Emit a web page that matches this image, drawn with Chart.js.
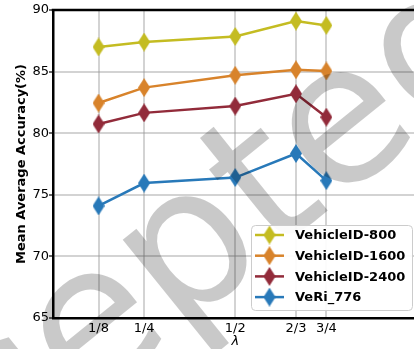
<!DOCTYPE html>
<html><head><meta charset="utf-8">
<script src="https://cdn.jsdelivr.net/npm/chart.js@4/dist/chart.umd.min.js"></script>
<style>html,body{margin:0;padding:0;overflow:hidden;background:#fff;width:414px;height:349px}canvas{display:block}</style>
</head><body>
<canvas id="c" width="424" height="349"></canvas>
<script>
// ---- data ----
const lambdaValues = [0.125, 0.25, 0.5, 2/3, 0.75];
const lambdaLabels = ['1/8', '1/4', '1/2', '2/3', '3/4'];
const seriesNames = ['VehicleID-800', 'VehicleID-1600', 'VehicleID-2400', 'VeRi_776'];
const vehicleID800 = [87.0, 87.4, 87.85, 89.1, 88.75];
const vehicleID1600 = [82.45, 83.7, 84.7, 85.15, 85.05];
const vehicleID2400 = [80.75, 81.65, 82.2, 83.2, 81.3];
const veri776 = [74.1, 75.95, 76.4, 78.35, 76.15];
const yTicks = [65, 70, 75, 80, 85, 90];

const seriesValues = [vehicleID800, vehicleID1600, vehicleID2400, veri776];
const colors = ['#c4bc22', '#d8832b', '#922b3a', '#2879b9'];

function diamond(color){
  const c = document.createElement('canvas');
  c.width = 12; c.height = 19;
  const x = c.getContext('2d');
  x.fillStyle = color;
  x.beginPath(); x.moveTo(6,0); x.lineTo(12,9.5); x.lineTo(6,19); x.lineTo(0,9.5); x.closePath(); x.fill();
  return c;
}
const markers = colors.map(diamond);

const datasets = seriesNames.map((n,i)=>({
  label: n,
  data: lambdaValues.map((v,j)=>({x:v, y:seriesValues[i][j]})),
  borderColor: colors[i],
  backgroundColor: colors[i],
  borderWidth: 2.5,
  pointStyle: markers[i],
  tension: 0
}));

const extras = {
  id: 'extras',
  afterDraw(chart){
    const ctx = chart.ctx, a = chart.chartArea;
    // top spine
    ctx.save();
    ctx.strokeStyle = '#000'; ctx.lineWidth = 2.5;
    ctx.beginPath(); ctx.moveTo(a.left-1.25, a.top); ctx.lineTo(a.right, a.top); ctx.stroke();
    ctx.restore();
    // watermark
    ctx.save();
    ctx.translate(-185, 626);
    ctx.rotate(-39*Math.PI/180);
    ctx.font = '195px "DejaVu Sans"';
    ctx.fillStyle = 'rgba(0,0,0,0.21)';
    ctx.textBaseline = 'alphabetic';
    ctx.fillText('Accepted', 0, 0);
    ctx.restore();
    // legend
    ctx.save();
    const bx = 251.5, by = 225.5, bw = 161, bh = 85, r = 4;
    ctx.beginPath();
    ctx.moveTo(bx+r,by); ctx.lineTo(bx+bw-r,by); ctx.quadraticCurveTo(bx+bw,by,bx+bw,by+r);
    ctx.lineTo(bx+bw,by+bh-r); ctx.quadraticCurveTo(bx+bw,by+bh,bx+bw-r,by+bh);
    ctx.lineTo(bx+r,by+bh); ctx.quadraticCurveTo(bx,by+bh,bx,by+bh-r);
    ctx.lineTo(bx,by+r); ctx.quadraticCurveTo(bx,by,bx+r,by); ctx.closePath();
    ctx.fillStyle = 'rgba(255,255,255,0.92)'; ctx.fill();
    ctx.strokeStyle = '#cccccc'; ctx.lineWidth = 1; ctx.stroke();
    chart.data.datasets.forEach((ds,i)=>{
      const y = 235 + i*20.7;
      ctx.strokeStyle = ds.borderColor; ctx.lineWidth = 2.5;
      ctx.beginPath(); ctx.moveTo(255,y); ctx.lineTo(284,y); ctx.stroke();
      ctx.drawImage(markers[i], 269.5-6, y-9.5);
      ctx.fillStyle = '#000';
      ctx.font = 'bold 13px "DejaVu Sans"';
      ctx.textBaseline = 'middle'; ctx.textAlign = 'left';
      ctx.fillText(ds.label, 295, y+1);
    });
    ctx.restore();
  }
};

new Chart(document.getElementById('c'), {
  type: 'line',
  data: { datasets },
  options: {
    responsive: false,
    animation: false,
    events: [],
    layout: { padding: { top: 10, right: 0, left: 0, bottom: 0 } },
    plugins: { legend: { display: false }, tooltip: { enabled: false } },
    scales: {
      x: {
        type: 'linear', min: 0, max: 1,
        afterBuildTicks: s => { s.ticks = lambdaValues.map(v=>({value:v})); },
        afterFit: s => { s.height = 31; },
        ticks: {
          autoSkip: false, maxRotation: 0, padding: 3,
          color: '#000', font: { family: 'DejaVu Sans', size: 13 },
          callback: (v) => { const k = lambdaValues.findIndex(t=>Math.abs(t-v)<1e-6); return k>=0 ? lambdaLabels[k] : ''; }
        },
        grid: { color: 'rgba(150,150,150,0.42)', lineWidth: 2, drawTicks: false },
        border: { color: '#000', width: 2.5 },
        title: { display: true, text: 'λ', color: '#000', font: { family: 'DejaVu Sans', size: 13, style: 'italic' }, padding: { top: 0, bottom: 0 } }
      },
      y: {
        min: 65, max: 90,
        afterBuildTicks: s => { s.ticks = yTicks.map(v=>({value:v})); },
        afterFit: s => { s.width = 53; },
        ticks: { padding: 0, color: '#000', font: { family: 'DejaVu Sans', size: 13 } },
        grid: { color: 'rgba(150,150,150,0.42)', lineWidth: 2, tickLength: 4, tickColor: '#000', tickWidth: 1.2 },
        border: { color: '#000', width: 2.5 },
        title: { display: true, text: 'Mean Average Accuracy(%)', color: '#000', font: { family: 'DejaVu Sans', size: 13, weight: 'bold' }, padding: { top: 14, bottom: 0 } }
      }
    }
  },
  plugins: [extras]
});
</script>
</body></html>
